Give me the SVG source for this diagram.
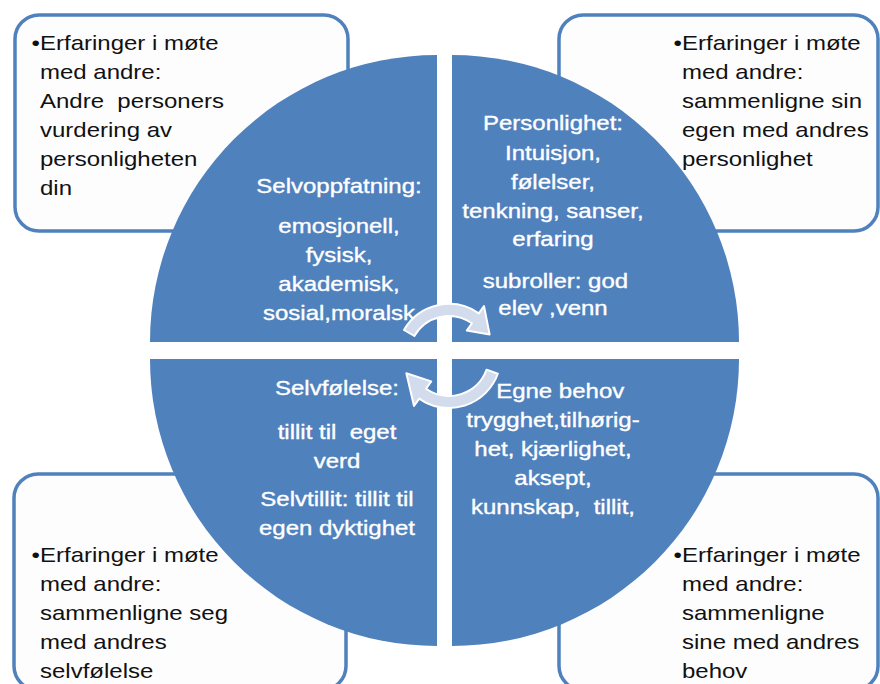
<svg xmlns="http://www.w3.org/2000/svg" width="880" height="684" viewBox="0 0 880 684">
  <style>
    .box { fill: #fdfdfd; stroke: #4f81bd; stroke-width: 3.5; }
    .quad { fill: #4f81bd; }
    .dark { font-family: "Liberation Sans", Arial, sans-serif; font-size: 20px; fill: #111111; }
    .light { font-family: "Liberation Sans", Arial, sans-serif; font-size: 20px; fill: #ffffff; stroke: #ffffff; stroke-width: 0.35; text-anchor: middle; }
    .cyc { fill: #d2dcec; stroke: #ffffff; stroke-width: 2; stroke-linejoin: round; }
  </style>
  <rect width="880" height="684" fill="#ffffff"/>

  <!-- outer note boxes (behind the circle) -->
  <g id="note-top-left">
    <rect class="box" x="15" y="15" width="333" height="216" rx="24"/>
    <g transform="translate(40,0) scale(1.2,1)" class="dark">
      <text x="-7" y="50">•Erfaringer i møte</text>
      <text x="0" y="79">med andre:</text>
      <text x="0" y="108" xml:space="preserve">Andre  personers</text>
      <text x="0" y="137">vurdering av</text>
      <text x="0" y="166">personligheten</text>
      <text x="0" y="195">din</text>
    </g>
  </g>
  <g id="note-top-right">
    <rect class="box" x="559" y="15" width="319" height="216" rx="24"/>
    <g transform="translate(682,0) scale(1.2,1)" class="dark">
      <text x="-7" y="50">•Erfaringer i møte</text>
      <text x="0" y="79">med andre:</text>
      <text x="0" y="108">sammenligne sin</text>
      <text x="0" y="137">egen med andres</text>
      <text x="0" y="166">personlighet</text>
    </g>
  </g>
  <g id="note-bottom-left">
    <rect class="box" x="14" y="474" width="332" height="216" rx="24"/>
    <g transform="translate(40,0) scale(1.2,1)" class="dark">
      <text x="-7" y="562">•Erfaringer i møte</text>
      <text x="0" y="591">med andre:</text>
      <text x="0" y="620">sammenligne seg</text>
      <text x="0" y="649">med andres</text>
      <text x="0" y="678">selvfølelse</text>
    </g>
  </g>
  <g id="note-bottom-right">
    <rect class="box" x="559" y="474" width="319" height="216" rx="24"/>
    <g transform="translate(682,0) scale(1.2,1)" class="dark">
      <text x="-7" y="562">•Erfaringer i møte</text>
      <text x="0" y="591">med andre:</text>
      <text x="0" y="620">sammenligne</text>
      <text x="0" y="649">sine med andres</text>
      <text x="0" y="678">behov</text>
    </g>
  </g>

  <!-- four quarter-circle segments -->
  <g id="quad-selvoppfatning">
    <path class="quad" d="M437,342 L150,342 A287,287 0 0 1 437,55 Z"/>
    <g transform="translate(339,0) scale(1.2,1)" class="light">
      <text x="0" y="193">Selvoppfatning:</text>
      <text x="0" y="233">emosjonell,</text>
      <text x="0" y="262">fysisk,</text>
      <text x="0" y="291">akademisk,</text>
      <text x="0" y="320">sosial,moralsk</text>
    </g>
  </g>
  <g id="quad-personlighet">
    <path class="quad" d="M452,342 L452,55 A287,287 0 0 1 739,342 Z"/>
    <g transform="translate(553,0) scale(1.2,1)" class="light">
      <text x="0" y="130">Personlighet:</text>
      <text x="0" y="160">Intuisjon,</text>
      <text x="0" y="189">følelser,</text>
      <text x="0" y="218">tenkning, sanser,</text>
      <text x="0" y="246">erfaring</text>
      <text x="2" y="288">subroller: god</text>
      <text x="0" y="315">elev ,venn</text>
    </g>
  </g>
  <g id="quad-behov">
    <path class="quad" d="M452,359 L739,359 A287,287 0 0 1 452,646 Z"/>
    <g transform="translate(553,0) scale(1.2,1)" class="light">
      <text x="6" y="398">Egne behov</text>
      <text x="0" y="427">trygghet,tilhørig-</text>
      <text x="0" y="456">het, kjærlighet,</text>
      <text x="0" y="485">aksept,</text>
      <text x="0" y="514" xml:space="preserve">kunnskap,  tillit,</text>
    </g>
  </g>
  <g id="quad-selvfolelse">
    <path class="quad" d="M437,359 L437,646 A287,287 0 0 1 150,359 Z"/>
    <g transform="translate(337,0) scale(1.2,1)" class="light">
      <text x="0" y="395">Selvfølelse:</text>
      <text x="0" y="439" xml:space="preserve">tillit til  eget</text>
      <text x="0" y="468">verd</text>
      <text x="0" y="506">Selvtillit: tillit til</text>
      <text x="0" y="535">egen dyktighet</text>
    </g>
  </g>

  <!-- central cycle arrows -->
  <g id="connectors">
    <path class="cyc" d="M403.97,330 A52,52 0 0 1 478.83,313.4 L483.99,306.03 L489.61,334.4 L466.78,330.61 L471.94,323.23 A40,40 0 0 0 414.36,336 Z"/>
    <path class="cyc" d="M497.86,373.78 A52,52 0 0 1 419.17,398.6 L414.01,405.97 L406.35,373.23 L431.22,381.39 L426.06,388.77 A40,40 0 0 0 486.59,369.68 Z"/>
  </g>
</svg>
